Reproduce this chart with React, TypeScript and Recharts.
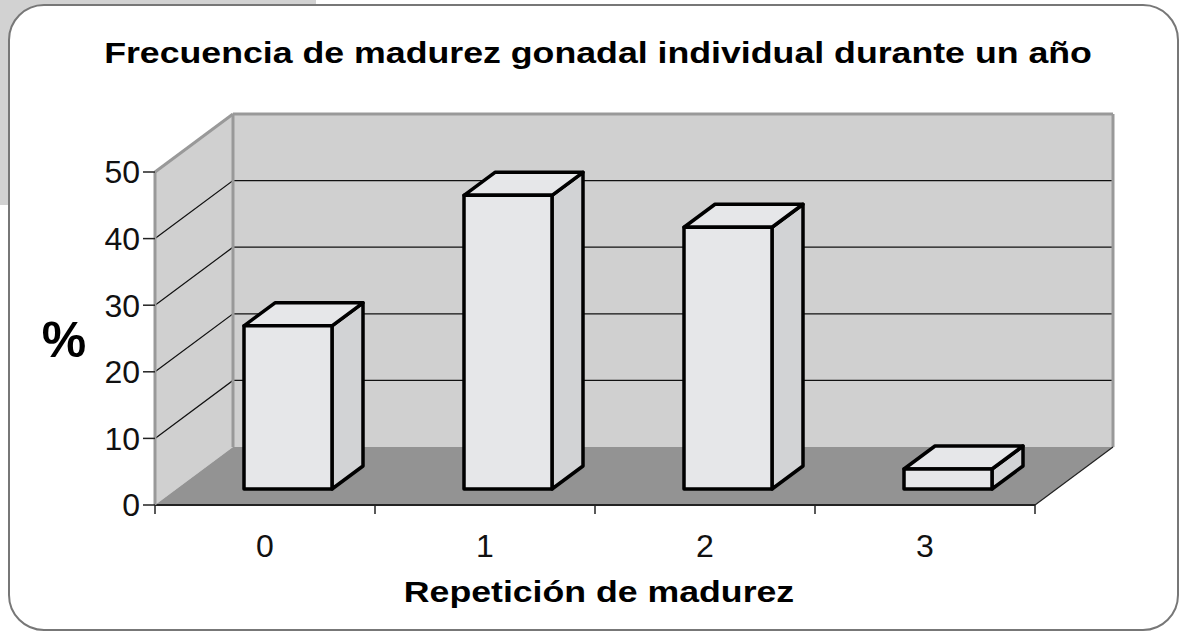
import React from 'react';
import { BarChart, Bar, XAxis, YAxis, ReferenceArea } from 'recharts';

// valores
const categorias = ['0', '1', '2', '3'];
const porcentajes = [24.5, 44.1, 39.3, 3.0];
const yTicks = [0, 10, 20, 30, 40, 50];

const data = categorias.map((c, i) => ({ cat: c, valor: porcentajes[i] }));

const FONT = '"Liberation Sans", Arial, sans-serif';

// profundidad de las paredes (efecto 3D)
const WX = 78;
const WY = 58;
// desplazamiento de la cara frontal de la barra y su profundidad
const FX = 23;
const FY = 16;
const BX = 31;
const BY = 23;

const Walls = (props: any) => {
  const { x, y, width: w, height: h } = props;
  const grid = yTicks.filter((t) => t > 0 && t < 50);
  const edge = { stroke: '#999999', strokeWidth: 3, fill: 'none' };
  return (
    <g>
      <polygon
        points={`${x},${y} ${x + WX},${y - WY} ${x + WX},${y + h - WY} ${x},${y + h}`}
        fill="#d0d0d0"
      />
      <rect x={x + WX} y={y - WY} width={w} height={h} fill="#d0d0d0" />
      <polygon
        points={`${x},${y + h} ${x + WX},${y + h - WY} ${x + w + WX},${y + h - WY} ${x + w},${y + h}`}
        fill="#939393"
      />
      {grid.map((t) => {
        const yy = y + h * (1 - t / 50);
        return (
          <polyline
            key={t}
            points={`${x},${yy} ${x + WX},${yy - WY} ${x + w + WX},${yy - WY}`}
            stroke="#111"
            strokeWidth={1.2}
            fill="none"
          />
        );
      })}
      <line x1={x} y1={y} x2={x + WX} y2={y - WY} {...edge} />
      <line x1={x + WX} y1={y - WY} x2={x + w + WX} y2={y - WY} {...edge} />
      <line x1={x + WX} y1={y - WY} x2={x + WX} y2={y + h - WY} {...edge} />
      <line x1={x + w + WX} y1={y - WY} x2={x + w + WX} y2={y + h - WY} {...edge} />
      <line x1={x + w} y1={y + h} x2={x + w + WX} y2={y + h - WY} stroke="#222" strokeWidth={1.2} />
    </g>
  );
};

const Box3D = (props: any) => {
  const { x, y, width, height } = props;
  const fx = x + FX;
  const fy = y - FY;
  const r = fx + width;
  const b = fy + height;
  const line = { stroke: '#000', strokeWidth: 3.5, strokeLinejoin: 'round' as const };
  return (
    <g>
      <polygon
        points={`${r},${fy} ${r + BX},${fy - BY} ${r + BX},${b - BY} ${r},${b}`}
        fill="#d2d3d5"
        {...line}
      />
      <polygon
        points={`${fx},${fy} ${fx + BX},${fy - BY} ${r + BX},${fy - BY} ${r},${fy}`}
        fill="#e6e7e9"
        {...line}
      />
      <rect x={fx} y={fy} width={width} height={height} fill="#e6e7e9" {...line} />
    </g>
  );
};

const XTick = (props: any) => {
  const { x, y, payload, index } = props;
  const half = payload && payload.offset ? payload.offset : 110;
  return (
    <g>
      <line x1={x - half} y1={y} x2={x - half} y2={y + 9} stroke="#222" strokeWidth={1.5} />
      {index === categorias.length - 1 && (
        <line x1={x + half} y1={y} x2={x + half} y2={y + 9} stroke="#222" strokeWidth={1.5} />
      )}
      <text x={x} y={y + 52} textAnchor="middle" fontSize={32} fontFamily={FONT} fill="#111">
        {payload.value}
      </text>
    </g>
  );
};

export default function App() {
  return (
    <div style={{ position: 'absolute', left: 0, top: 0, width: 1181, height: 633, background: '#fff', overflow: 'hidden' }}>
      <div style={{ position: 'absolute', left: 0, top: 0, width: 316, height: 205, background: '#d2d2d2' }} />
      <div
        style={{
          position: 'absolute',
          left: 8,
          top: 4,
          width: 1171,
          height: 627,
          boxSizing: 'border-box',
          border: '2px solid #777',
          borderRadius: 36,
          background: '#fff',
        }}
      />
      <svg style={{ position: 'absolute', left: 0, top: 0 }} width={1181} height={90}>
        <g transform="translate(598,63) scale(1.19,1)">
          <text x={0} y={0} textAnchor="middle" fontFamily={FONT} fontWeight="bold" fontSize={30} fill="#000">
            Frecuencia de madurez gonadal individual durante un año
          </text>
        </g>
      </svg>
      <div style={{ position: 'absolute', left: 0, top: 0 }}>
        <BarChart
          width={1181}
          height={633}
          data={data}
          margin={{ top: 172, right: 146, bottom: 68, left: 95 }}
          barCategoryGap="30%"
        >
          <ReferenceArea y1={0} y2={50} ifOverflow="visible" shape={<Walls />} />
          <XAxis
            dataKey="cat"
            height={60}
            axisLine={{ stroke: '#222', strokeWidth: 2 }}
            tickLine={false}
            tickSize={0}
            tickMargin={0}
            tick={<XTick />}
            interval={0}
            label={{
              content: (p: any) => {
                const vb = p.viewBox || { x: 155, y: 505, width: 880 };
                const cx = vb.x + vb.width / 2 + 4;
                return (
                  <g transform={`translate(${cx},${vb.y + 97}) scale(1.23,1)`}>
                    <text x={0} y={0} textAnchor="middle" fontFamily={FONT} fontWeight="bold" fontSize={29} fill="#000">
                      Repetición de madurez
                    </text>
                  </g>
                );
              },
            }}
          />
          <YAxis
            width={60}
            domain={[0, 50]}
            ticks={yTicks}
            interval={0}
            axisLine={{ stroke: '#999999', strokeWidth: 3 }}
            tickLine={{ stroke: '#222', strokeWidth: 1.5 }}
            tickSize={12}
            tickMargin={3}
            tick={{ fontSize: 32, fontFamily: FONT, fill: '#111' }}
            label={{
              content: (p: any) => {
                const vb = p.viewBox || { x: 95, y: 172, width: 60, height: 333 };
                return (
                  <text
                    x={64}
                    y={vb.y + vb.height / 2 + 18}
                    textAnchor="middle"
                    fontFamily={FONT}
                    fontWeight="bold"
                    fontSize={50}
                    fill="#000"
                  >
                    %
                  </text>
                );
              },
            }}
          />
          <Bar dataKey="valor" shape={<Box3D />} isAnimationActive={false} />
        </BarChart>
      </div>
    </div>
  );
}
